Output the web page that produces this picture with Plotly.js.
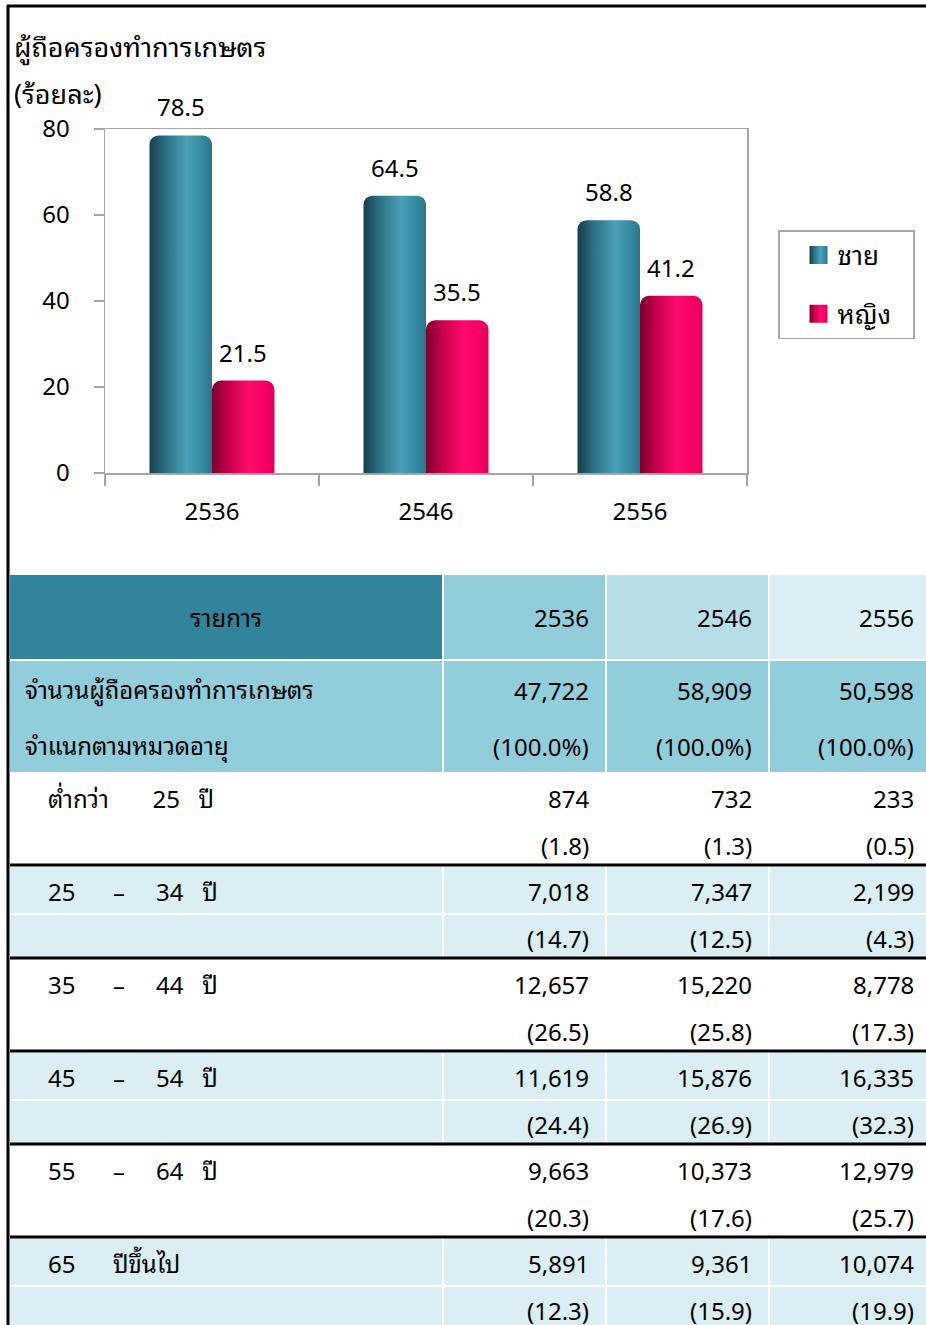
<!DOCTYPE html>
<html>
<head>
<meta charset="utf-8">
<script src="https://cdn.plot.ly/plotly-3.0.1.min.js"></script>
<style>
  html, body { margin: 0; padding: 0; background: #ffffff; }
  #chart { width: 926px; height: 1325px; }
</style>
</head>
<body>
<div id="chart"></div>
<script>
// ---------------- DATA ----------------
const years = ['2536', '2546', '2556'];
const seriesNames = ['ชาย', 'หญิง'];
const malePct = [78.5, 64.5, 58.8];
const femalePct = [21.5, 35.5, 41.2];

const chartTitle = 'ผู้ถือครองทำการเกษตร';
const chartUnit = '(ร้อยละ)';

const tableHeader = 'รายการ';
const totalLabel = ['จำนวนผู้ถือครองทำการเกษตร', 'จำแนกตามหมวดอายุ'];
const totalHolders = [47722, 58909, 50598];
const totalShare = ['(100.0%)', '(100.0%)', '(100.0%)'];

const ageGroups = ['ต่ำกว่า       25   ปี', '25      –     34   ปี', '35      –     44   ปี',
                   '45      –     54   ปี', '55      –     64   ปี', '65      ปีขึ้นไป'];
const count2536 = [874, 7018, 12657, 11619, 9663, 5891];
const count2546 = [732, 7347, 15220, 15876, 10373, 9361];
const count2556 = [233, 2199, 8778, 16335, 12979, 10074];
const share2536 = [1.8, 14.7, 26.5, 24.4, 20.3, 12.3];
const share2546 = [1.3, 12.5, 25.8, 26.9, 17.6, 15.9];
const share2556 = [0.5, 4.3, 17.3, 32.3, 25.7, 19.9];

// ---------------- STYLE / LAYOUT CONSTANTS ----------------
const W = 926, H = 1325;
const FONT = '"Noto Sans", "Noto Sans Thai Looped", Loma, Garuda, Tahoma, "Noto Sans Thai", "DejaVu Sans", sans-serif';
const FS = 24;
const X = px => px / W;
const Y = py => 1 - py / H;
const BLUE = '#31859c', PINK = '#f0005f';
const AXIS_GRAY = '#a6a6a6';
const LEGEND_W = 135;

const counts = [count2536, count2546, count2556];
const shares = [share2536, share2546, share2556];
const fmtInt = v => v.toLocaleString('en-US');
const fmtPct = v => '(' + v.toFixed(1) + ')';
const nb = s => s.replace(/ /g, '\u00a0');

// ---------------- CHART ----------------
const traces = [
  { type: 'bar', name: seriesNames[0], x: years, y: malePct, marker: { color: BLUE, cornerradius: 9 },
    legendgroup: 'm', hoverinfo: 'skip' },
  { type: 'bar', name: seriesNames[1], x: years, y: femalePct, marker: { color: PINK, cornerradius: 9 },
    legendgroup: 'f', hoverinfo: 'skip' }
];

const annotations = [];
const shapes = [];

// value labels above bars (x given as category serial number)
const BARHALF = 31;
[malePct, femalePct].forEach((arr, s) => {
  arr.forEach((v, i) => {
    annotations.push({ xref: 'x', yref: 'y', x: i, y: v, text: v.toFixed(1), showarrow: false,
      xanchor: 'center', yanchor: 'bottom', xshift: (s === 0 ? -BARHALF : BARHALF), yshift: 10,
      font: { family: FONT, size: FS, color: '#000' } });
  });
});

// titles
annotations.push({ xref: 'paper', yref: 'paper', x: X(12), y: Y(47), text: chartTitle, showarrow: false,
  xanchor: 'left', yanchor: 'middle', font: { family: FONT, size: 27, color: '#000' } });
annotations.push({ xref: 'paper', yref: 'paper', x: X(12), y: Y(93), text: chartUnit, showarrow: false,
  xanchor: 'left', yanchor: 'middle', font: { family: FONT, size: 27, color: '#000' } });

// ---------------- TABLE ----------------
const COLS = [[10, 442], [444, 605], [607, 768], [770, 926]];
const NUM_RIGHT = [0, 591, 754, 916];
const HEAD = [575, 659];
const TOT = [661, 772];
const AGE_TOP = 773, AGE_H = 93, AGE_SPLIT = 48;
const HEAD_FILL = ['#31849b', '#92cddc', '#b7dee8', '#daeef3'];
const TOT_FILL = '#92cddc';
const BAND_FILL = '#daeef3';

function rect(x0, x1, y0, y1, color) {
  shapes.push({ type: 'rect', xref: 'paper', yref: 'paper', x0: X(x0), x1: X(x1), y0: Y(y1), y1: Y(y0),
    fillcolor: color, line: { width: 0 }, layer: 'below' });
}
function txt(x, y, text, anchor) {
  annotations.push({ xref: 'paper', yref: 'paper', x: X(x), y: Y(y), text: text, showarrow: false,
    xanchor: anchor, yanchor: 'middle', font: { family: FONT, size: FS, color: '#000' } });
}

// header
COLS.forEach((c, j) => rect(c[0], c[1], HEAD[0], HEAD[1], HEAD_FILL[j]));
txt((COLS[0][0] + COLS[0][1]) / 2, (HEAD[0] + HEAD[1]) / 2 + 1, tableHeader, 'center');
years.forEach((yr, j) => txt(NUM_RIGHT[j + 1], (HEAD[0] + HEAD[1]) / 2 + 1, yr, 'right'));

// total row
COLS.forEach(c => rect(c[0], c[1], TOT[0], TOT[1], TOT_FILL));
txt(23, TOT[0] + 29, totalLabel[0], 'left');
txt(23, TOT[0] + 85, totalLabel[1], 'left');
years.forEach((yr, j) => {
  txt(NUM_RIGHT[j + 1], TOT[0] + 29, fmtInt(totalHolders[j]), 'right');
  txt(NUM_RIGHT[j + 1], TOT[0] + 85, totalShare[j], 'right');
});

// age rows
ageGroups.forEach((g, i) => {
  const top = AGE_TOP + i * AGE_H;
  const bot = Math.min(top + AGE_H, H + 5);
  if (i % 2 === 1) {
    COLS.forEach(c => {
      rect(c[0], c[1], top + 1, top + AGE_SPLIT - 1, BAND_FILL);
      rect(c[0], c[1], top + AGE_SPLIT + 1, bot, BAND_FILL);
    });
  }
  txt(46, top + 25, nb(g), 'left');
  years.forEach((yr, j) => {
    txt(NUM_RIGHT[j + 1], top + 25, fmtInt(counts[j][i]), 'right');
    txt(NUM_RIGHT[j + 1], top + 72, fmtPct(shares[j][i]), 'right');
  });
  if (i > 0) {
    shapes.push({ type: 'line', xref: 'paper', yref: 'paper', x0: X(10), x1: X(926), y0: Y(top - 1), y1: Y(top - 1),
      line: { color: '#000', width: 3 } });
  }
});

// outer frame (top and left)
shapes.push({ type: 'line', xref: 'paper', yref: 'paper', x0: X(7), x1: X(926), y0: Y(6), y1: Y(6),
  line: { color: '#000', width: 3 } });
shapes.push({ type: 'line', xref: 'paper', yref: 'paper', x0: X(8), x1: X(8), y0: Y(5), y1: Y(1325),
  line: { color: '#000', width: 3 } });

const layout = {
  width: W, height: H,
  margin: { l: 0, r: 0, t: 0, b: 0 },
  paper_bgcolor: '#ffffff', plot_bgcolor: '#ffffff',
  font: { family: FONT, size: FS, color: '#000' },
  barmode: 'group', bargap: 0.416, bargroupgap: 0,
  showlegend: true,
  legend: { x: X(778), y: Y(230), xanchor: 'left', yanchor: 'top',
    bordercolor: AXIS_GRAY, borderwidth: 1.5, bgcolor: '#fff',
    font: { family: FONT, size: 26, color: '#000' },
    traceorder: 'grouped', tracegroupgap: 22, itemwidth: 48, entrywidth: 137 },
  xaxis: { domain: [X(105), X(747)], type: 'category', range: [-0.5, 2.5], autorange: false, showgrid: false,
    showline: true, linecolor: AXIS_GRAY, linewidth: 1.5, mirror: true,
    ticks: 'outside', tickson: 'boundaries', ticklen: 11, tickcolor: AXIS_GRAY, tickwidth: 1.5,
    tickfont: { family: FONT, size: FS, color: '#000' }, ticklabelstandoff: 17, fixedrange: true },
  yaxis: { domain: [Y(473), Y(129)], range: [0, 80], autorange: false, dtick: 20, showgrid: false, zeroline: false,
    showline: true, linecolor: AXIS_GRAY, linewidth: 1.5, mirror: true,
    ticks: 'outside', ticklen: 10, tickcolor: AXIS_GRAY, tickwidth: 1.5,
    tickfont: { family: FONT, size: FS, color: '#000' }, ticklabelstandoff: 19, fixedrange: true },
  annotations: annotations,
  shapes: shapes
};

Plotly.newPlot('chart', traces, layout, { displayModeBar: false, staticPlot: true }).then(gd => {
  // cylinder-like shading on bars and legend swatches
  const svgNS = 'http://www.w3.org/2000/svg';
  const defs = gd.querySelector('.main-svg defs');
  function grad(id, stops) {
    const g = document.createElementNS(svgNS, 'linearGradient');
    g.setAttribute('id', id);
    g.setAttribute('x1', '0'); g.setAttribute('x2', '1'); g.setAttribute('y1', '0'); g.setAttribute('y2', '0');
    stops.forEach(s => {
      const st = document.createElementNS(svgNS, 'stop');
      st.setAttribute('offset', s[0]); st.setAttribute('stop-color', s[1]);
      g.appendChild(st);
    });
    defs.appendChild(g);
  }
  grad('gradMale', [['0', '#173f4b'], ['0.25', '#2a6f83'], ['0.6', '#4aa1b9'], ['0.85', '#3589a1'], ['1', '#2b7489']]);
  grad('gradFemale', [['0', '#7a0030'], ['0.25', '#c4004b'], ['0.6', '#ff0a6c'], ['0.85', '#f50064'], ['1', '#e0005a']]);
  const ids = ['gradMale', 'gradFemale'];
  gd.querySelectorAll('.barlayer .trace').forEach((t, k) => {
    t.querySelectorAll('path').forEach(p => { p.style.fill = 'url(#' + ids[k] + ')'; });
  });
  gd.querySelectorAll('.legend .traces').forEach((t, k) => {
    t.querySelectorAll('.legendpoints path').forEach(p => {
      p.style.fill = 'url(#' + ids[k] + ')';
      p.setAttribute('d', 'M6,6H-6V-6H6Z');
      const tr = p.getAttribute('transform') || '';
      p.setAttribute('transform', tr + ' translate(10,0) scale(1.5)');
    });
  });
  // widen legend frame to the reference box width
  gd.querySelectorAll('.legend rect.bg').forEach(r => r.setAttribute('width', LEGEND_W));
});
</script>
</body>
</html>
